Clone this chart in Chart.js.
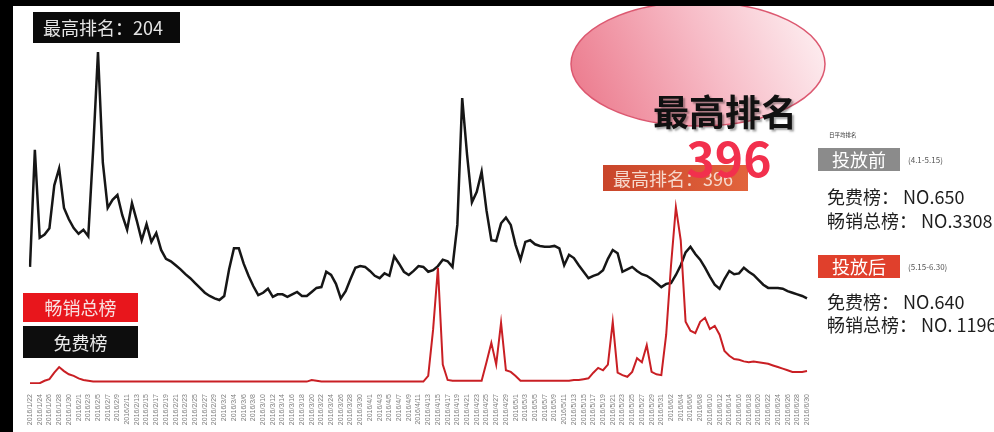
<!DOCTYPE html>
<html>
<head>
<meta charset="utf-8">
<script src="https://cdn.jsdelivr.net/npm/chart.js@4.4.0/dist/chart.umd.min.js"></script>
<style>
  html, body { margin: 0; padding: 0; background: #000; }
  #wrap { width: 994px; height: 432px; }
</style>
</head>
<body>
<div id="wrap"><canvas id="rankChart" width="994" height="432"></canvas></div>
<script>
// daily categories, 2016/1/22 .. 2016/6/30
const firstDay = new Date(2016, 0, 22);
const days = [];
for (let i = 0; i < 161; i++) {
  const d = new Date(firstDay);
  d.setDate(d.getDate() + i);
  days.push(`${d.getFullYear()}/${d.getMonth() + 1}/${d.getDate()}`);
}

// free chart rank (black line)
const freeRank = [
  470, 325, 434, 430, 422, 369, 348, 397, 411, 422,
  429, 424, 432, 325, 204, 341, 397, 387, 381, 406,
  424, 391, 413, 437, 417, 439, 428, 449, 460, 463,
  468, 473, 479, 484, 490, 496, 502, 506, 509, 511,
  506, 473, 447, 447, 466, 481, 494, 505, 502, 497,
  507, 504, 504, 507, 504, 501, 506, 506, 501, 496,
  495, 476, 480, 491, 509, 500, 485, 471, 469, 470,
  475, 481, 484, 478, 481, 457, 466, 476, 480, 475,
  469, 470, 476, 474, 469, 461, 463, 470, 418, 261,
  331, 390, 377, 352, 400, 437, 438, 416, 409, 418,
  443, 461, 439, 437, 442, 444, 445, 445, 444, 447,
  468, 455, 459, 468, 476, 484, 481, 479, 474, 460,
  449, 453, 476, 473, 470, 475, 479, 481, 485, 490,
  495, 491, 490, 480, 468, 452, 445, 454, 461, 471,
  482, 492, 497, 485, 475, 479, 478, 471, 476, 480,
  486, 492, 496, 496, 496, 497, 500, 502, 504, 506,
  509
];

// top grossing rank (red line)
const grossRank = [
  614, 614, 614, 611, 609, 601, 594, 599, 603, 605,
  608, 610, 611, 612, 612, 612, 612, 612, 612, 612,
  612, 612, 612, 612, 612, 612, 612, 612, 612, 612,
  612, 612, 612, 612, 612, 612, 612, 612, 612, 612,
  612, 612, 612, 612, 612, 612, 612, 612, 612, 612,
  612, 612, 612, 612, 612, 612, 612, 612, 610, 611,
  612, 612, 612, 612, 612, 612, 612, 612, 612, 612,
  612, 612, 612, 612, 612, 612, 612, 612, 612, 612,
  612, 612, 605, 548, 471, 591, 610, 611, 611, 611,
  611, 611, 611, 611, 588, 564, 591, 539, 598, 600,
  605, 611, 611, 611, 611, 611, 611, 611, 611, 611,
  611, 611, 610, 610, 609, 608, 601, 595, 598, 591,
  538, 601, 604, 606, 600, 583, 588, 567, 600, 603,
  604, 554, 468, 396, 437, 538, 549, 552, 538, 533,
  547, 543, 554, 574, 580, 584, 585, 587, 588, 587,
  588, 589, 590, 592, 594, 596, 598, 600, 600, 600,
  599
];

const legendNames = ['畅销总榜', '免费榜'];
const periods = ['投放前', '投放后'];
const periodRanges = ['(4.1-5.15)', '(5.15-6.30)'];
const avgFree = ['NO.650', 'NO.640'];
const avgGross = ['NO.3308', 'NO. 1196'];
const bestFree = 204;
const bestGross = 396;

const CJK = '"Noto Sans CJK SC", "Noto Sans", sans-serif';

// black frame with a white sheet
const sheet = {
  id: 'sheet',
  beforeDraw(c) {
    const g = c.ctx;
    g.save();
    g.fillStyle = '#000';
    g.fillRect(0, 0, c.width, c.height);
    g.fillStyle = '#fff';
    g.fillRect(13, 6, c.width - 13, c.height - 6);
    g.restore();
  }
};

function box(g, x, y, w, h, fill, text, color, size, cx) {
  g.fillStyle = fill;
  g.fillRect(x, y, w, h);
  g.fillStyle = color;
  g.font = `${size}px ${CJK}`;
  g.textBaseline = 'middle';
  if (cx) { g.textAlign = 'center'; g.fillText(text, x + w / 2, y + h / 2 + 1); }
  else { g.textAlign = 'left'; g.fillText(text, x + 10, y + h / 2 + 1); }
}

const notes = {
  id: 'notes',
  afterDraw(c) {
    const g = c.ctx;
    g.save();

    // pink bubble, clipped to the sheet
    g.save();
    g.beginPath();
    g.rect(13, 6, c.width - 13, c.height - 6);
    g.clip();
    const pg = g.createLinearGradient(590, 115, 810, 15);
    pg.addColorStop(0, '#ec7e90');
    pg.addColorStop(0.55, '#f7bcc7');
    pg.addColorStop(1, '#fdecef');
    g.beginPath();
    g.ellipse(698, 64, 127, 62, 0, 0, Math.PI * 2);
    g.fillStyle = pg;
    g.fill();
    g.lineWidth = 1.5;
    g.strokeStyle = '#dc5870';
    g.stroke();
    g.restore();

    // best rank tag, free chart
    box(g, 33, 12, 147, 31, '#0a0a0a', `最高排名：${bestFree}`, '#e4e4e4', 18, false);

    // best rank tag, grossing chart
    const og = g.createLinearGradient(603, 0, 748, 0);
    og.addColorStop(0, '#c9452a');
    og.addColorStop(1, '#e2643c');
    box(g, 603, 165, 145, 26, og, `最高排名：${bestGross}`, '#f6d8cc', 18, false);

    // headline
    g.save();
    g.shadowColor = 'rgba(0,0,0,0.35)';
    g.shadowOffsetX = 2;
    g.shadowOffsetY = 2;
    g.shadowBlur = 2;
    g.fillStyle = '#111';
    g.font = `bold 36px ${CJK}`;
    g.textAlign = 'center';
    g.textBaseline = 'middle';
    g.fillText('最高排名', 725, 112);
    g.restore();

    g.fillStyle = '#f2304d';
    g.font = `bold 48px ${CJK}`;
    g.textAlign = 'center';
    g.textBaseline = 'alphabetic';
    g.fillText(String(bestGross), 729, 177);

    // right-hand summary
    g.fillStyle = '#333';
    g.font = `5.5px ${CJK}`;
    g.textAlign = 'left';
    g.textBaseline = 'middle';
    g.fillText('日平均排名', 829, 135);

    const rows = [
      { top: 148, fill: '#8b8b8b', y1: 197, y2: 221 },
      { top: 255, fill: '#e0402c', y1: 302, y2: 325 }
    ];
    rows.forEach((r, i) => {
      box(g, 818, r.top, 82, 23, r.fill, periods[i], '#fff', 18, true);
      g.fillStyle = '#555';
      g.font = `8px ${CJK}`;
      g.textAlign = 'left';
      g.fillText(periodRanges[i], 908, r.top + 12);
      g.fillStyle = '#1e1e1e';
      g.font = `18px ${CJK}`;
      g.fillText(`${legendNames[1]}： ${avgFree[i]}`, 827, r.y1);
      g.fillText(`${legendNames[0]}： ${avgGross[i]}`, 827, r.y2);
    });

    // series keys
    box(g, 23, 293, 115, 29, '#e8161c', legendNames[0], '#f8e0e0', 18, true);
    box(g, 23, 326, 115, 32, '#0d0d0d', legendNames[1], '#e8e8e8', 18, true);

    g.restore();
  }
};

const ctx = document.getElementById('rankChart').getContext('2d');
new Chart(ctx, {
  type: 'line',
  data: {
    labels: days,
    datasets: [
      { label: legendNames[0], data: grossRank, borderColor: '#c91f24', borderWidth: 2, pointRadius: 0, tension: 0 },
      { label: legendNames[1], data: freeRank, borderColor: '#161616', borderWidth: 2.5, pointRadius: 0, tension: 0 }
    ]
  },
  options: {
    responsive: false,
    animation: false,
    layout: { padding: { left: 30, right: 187, top: 40, bottom: 0 } },
    plugins: { legend: { display: false }, tooltip: { enabled: false } },
    scales: {
      x: {
        grid: { display: false },
        border: { display: false },
        ticks: {
          autoSkip: false, minRotation: 90, maxRotation: 90, padding: 2,
          color: '#7e7e7e', font: { size: 7, family: 'Liberation Sans' },
          callback: (v, i) => (i % 2 ? '' : days[i])
        },
        afterFit: s => { s.height = 48; }
      },
      y: { display: false, reverse: true, min: 189, max: 615 }
    }
  },
  plugins: [sheet, notes]
});
</script>
</body>
</html>
